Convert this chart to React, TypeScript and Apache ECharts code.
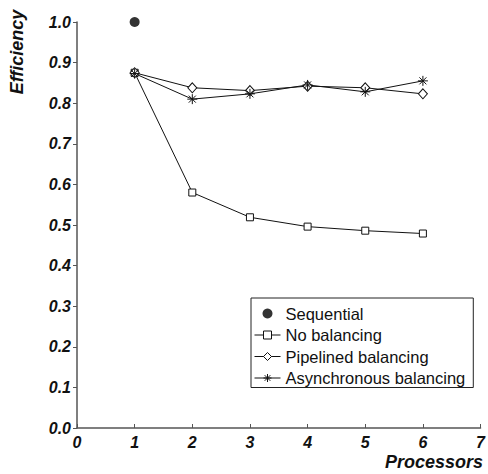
import React, { useEffect, useRef } from "react";
import * as echarts from "echarts";

const processors = [1, 2, 3, 4, 5, 6];
const sequential = [[1, 1.0]];
const noBalancing = [0.875, 0.58, 0.519, 0.496, 0.486, 0.479];
const pipelined = [0.875, 0.838, 0.831, 0.842, 0.838, 0.823];
const asynchronous = [0.873, 0.81, 0.823, 0.845, 0.828, 0.855];
const seriesNames = ["Sequential", "No balancing", "Pipelined balancing", "Asynchronous balancing"];
const xTicks = [0, 7, 1];
const yTicks = [0, 1, 0.1];

const FONT = "'Liberation Sans', Arial, Helvetica, sans-serif";
const ASTERISK = "path://M0,5 L10,5 M5,0 L5,10 M1.5,1.5 L8.5,8.5 M8.5,1.5 L1.5,8.5";

const pair = (ys: number[]) => processors.map((x, i) => [x, ys[i]]);

export default function App() {
  const ref = useRef<HTMLDivElement>(null);
  useEffect(() => {
    if (!ref.current) return;
    const chart = echarts.init(ref.current, null, { renderer: "svg" });
    const lineBase = {
      type: "line" as const,
      lineStyle: { color: "#111", width: 1 },
      itemStyle: { color: "#fff", borderColor: "#111", borderWidth: 1 },
      showSymbol: true,
    };
    chart.setOption({
      animation: false,
      backgroundColor: "#fff",
      grid: { left: 77, right: 5, top: 22, bottom: 46, containLabel: false },
      xAxis: {
        type: "value",
        min: xTicks[0],
        max: xTicks[1],
        interval: xTicks[2],
        splitLine: { show: false },
        axisLine: { lineStyle: { color: "#555", width: 1.5 } },
        axisTick: { inside: true, length: 4, lineStyle: { color: "#555", width: 1 } },
        axisLabel: {
          color: "#111",
          fontFamily: FONT,
          fontStyle: "italic",
          fontWeight: "bold",
          fontSize: 16,
          margin: 6,
        },
      },
      yAxis: {
        type: "value",
        min: yTicks[0],
        max: yTicks[1],
        interval: yTicks[2],
        splitLine: { show: false },
        axisLine: { show: true, lineStyle: { color: "#555", width: 1.5 } },
        axisTick: { show: true, inside: false, length: 4, lineStyle: { color: "#555", width: 1 } },
        axisLabel: {
          color: "#111",
          fontFamily: FONT,
          fontStyle: "italic",
          fontWeight: "bold",
          fontSize: 16,
          margin: 6,
          formatter: (v: number) => v.toFixed(1),
        },
      },
      legend: {
        orient: "vertical",
        left: 251,
        top: 298,
        data: seriesNames,
        backgroundColor: "#fff",
        borderColor: "#222",
        borderWidth: 1,
        padding: [7, 8, 1, 3],
        itemWidth: 26,
        itemHeight: 10,
        itemGap: 4.5,
        itemStyle: { borderWidth: 1 },
        lineStyle: { width: 1 },
        textStyle: { fontFamily: FONT, fontSize: 16.5, color: "#111" },
      },
      graphic: [
        {
          type: "text",
          x: 17,
          y: 52,
          rotation: Math.PI / 2,
          style: {
            text: "Efficiency",
            fontFamily: FONT,
            fontStyle: "italic",
            fontWeight: "bold",
            fontSize: 18,
            fill: "#111",
            align: "center",
            verticalAlign: "middle",
          },
        },
        {
          type: "text",
          x: 483,
          y: 462,
          style: {
            text: "Processors",
            fontFamily: FONT,
            fontStyle: "italic",
            fontWeight: "bold",
            fontSize: 18,
            fill: "#111",
            align: "right",
            verticalAlign: "middle",
          },
        },
      ],
      series: [
        {
          name: seriesNames[0],
          type: "scatter",
          data: sequential,
          symbol: "circle",
          symbolSize: 10,
          itemStyle: { color: "#000" },
        },
        {
          ...lineBase,
          name: seriesNames[1],
          data: pair(noBalancing),
          symbol: "rect",
          symbolSize: 7,
        },
        {
          ...lineBase,
          name: seriesNames[2],
          data: pair(pipelined),
          symbol: "diamond",
          symbolSize: [9, 10],
        },
        {
          ...lineBase,
          name: seriesNames[3],
          data: pair(asynchronous),
          symbol: ASTERISK,
          symbolSize: 10,
          itemStyle: { color: "none", borderColor: "#111", borderWidth: 1 },
        },
      ],
    });
    return () => chart.dispose();
  }, []);
  return (
    <div
      ref={ref}
      style={{ position: "fixed", left: 0, top: 0, width: 488, height: 474 }}
    />
  );
}
